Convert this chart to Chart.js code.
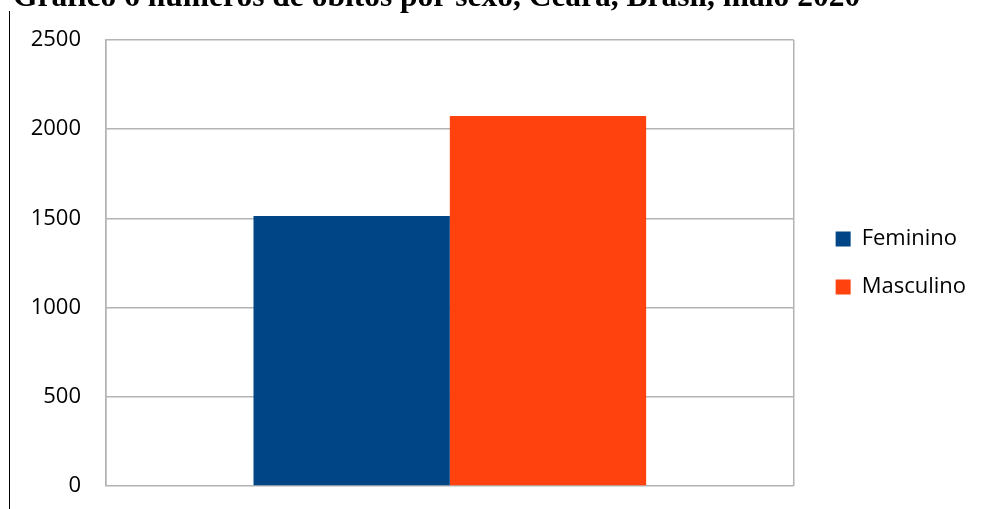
<!DOCTYPE html>
<html>
<head>
<meta charset="utf-8">
<script src="https://cdn.jsdelivr.net/npm/chart.js@4/dist/chart.umd.min.js"></script>
<style>
  body { margin: 0; background: #fff; }
  canvas { display: block; }
</style>
</head>
<body>
<canvas id="grafico" width="981" height="509"></canvas>
<script>
var titulo = 'Gráfico 6 números de óbitos por sexo, Ceará, Brasil, maio 2020';
var categorias = ['maio 2020'];
var series = ['Feminino', 'Masculino'];
var obitos = [1513, 2074];
var cores = ['#004586', '#ff420e'];
var ticksY = [0, 500, 1000, 1500, 2000, 2500];

// titulo cortado no topo, linha vertical da esquerda e legenda um pouco mais a direita
var extras = {
  id: 'extras',
  afterLayout: function(chart) {
    chart.legend.left += 16;
    chart.legend.right += 16;
  },
  afterDraw: function(chart) {
    var ctx = chart.ctx;
    ctx.save();
    ctx.fillStyle = '#000';
    ctx.font = 'bold 31.5px "Liberation Serif"';
    ctx.textBaseline = 'alphabetic';
    ctx.fillText(titulo, 13, 6);
    ctx.strokeStyle = '#000';
    ctx.lineWidth = 1;
    ctx.beginPath();
    ctx.moveTo(9.5, 11);
    ctx.lineTo(9.5, 509);
    ctx.stroke();
    ctx.restore();
  }
};

var datasets = [];
for (var i in series) {
  datasets.push({
    label: series[i],
    data: [obitos[i]],
    backgroundColor: cores[i],
    borderWidth: 0,
    barPercentage: 1,
    categoryPercentage: 0.571
  });
}

var ctx = document.getElementById('grafico');
var grafico = new Chart(ctx, {
  type: 'bar',
  data: { labels: categorias, datasets: datasets },
  plugins: [extras],
  options: {
    responsive: false,
    animation: false,
    layout: { padding: { left: 10, top: 40, right: 21, bottom: 23 } },
    plugins: {
      tooltip: { enabled: false },
      legend: {
        position: 'right',
        labels: {
          boxWidth: 15,
          boxHeight: 15,
          padding: 26,
          color: '#000',
          font: { family: '"Open Sans"', size: 22 }
        }
      }
    },
    scales: {
      x: {
        ticks: { display: false },
        grid: { color: '#b3b3b3', lineWidth: 1.5, drawTicks: false, offset: true },
        border: { display: false },
        afterFit: function(s) { s.height = 0; }
      },
      y: {
        min: 0,
        max: 2500,
        afterBuildTicks: function(s) { s.ticks = ticksY.map(function(v) { return { value: v }; }); },
        ticks: {
          padding: 0,
          color: '#000',
          font: { family: '"Open Sans"', size: 22 },
          callback: function(v) { return String(v); }
        },
        grid: { color: '#b3b3b3', lineWidth: 1.5, drawTicks: true, tickLength: 25, tickColor: 'rgba(0,0,0,0)' },
        border: { color: '#b3b3b3', width: 1.5 },
        afterFit: function(s) { s.width = 96; }
      }
    }
  }
});
</script>
</body>
</html>
